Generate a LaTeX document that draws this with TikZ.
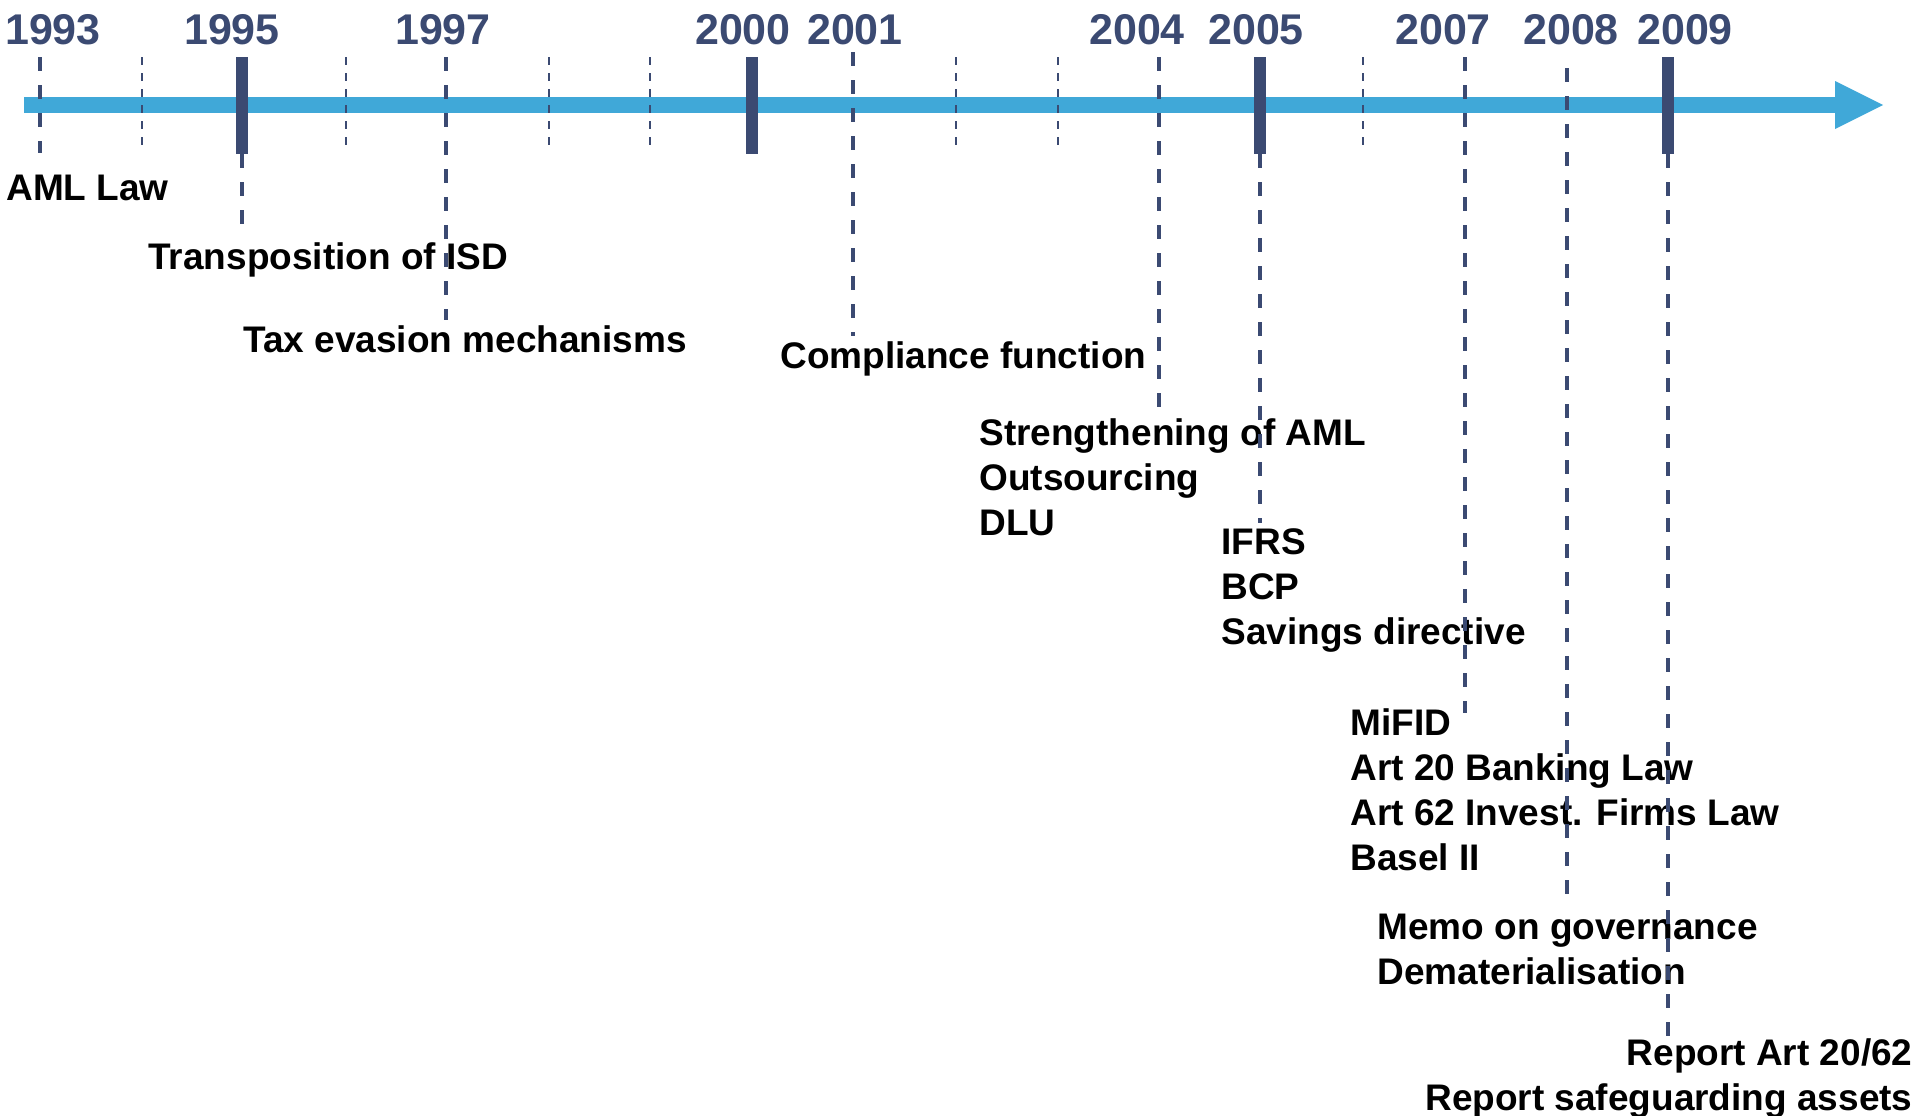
\documentclass[tikz,border=0pt]{standalone}
\usepackage{fontspec}
\setmainfont{Liberation Sans}
\definecolor{navy}{RGB}{59,74,114}
\definecolor{barblue}{RGB}{64,168,216}

\begin{document}
\begin{tikzpicture}[x=0.5pt, y=-0.5pt,
    year/.style={font=\fontsize{21.5}{24}\selectfont\bfseries, text=navy, inner sep=0},
    event/.style={font=\fontsize{18.5}{22.5}\selectfont\bfseries, align=left, inner sep=0, anchor=north west},
    stem/.style={navy, line width=1.75pt, dash pattern=on 7pt off 7pt},
    minortick/.style={navy, line width=1pt, dash pattern=on 4pt off 4pt},
    yearbar/.style={navy, line width=6pt}]
    \useasboundingbox (0,0) rectangle (1917,1115);

    % Flecha
    \fill[barblue] (24,97) rectangle (1836,113);
    \fill[barblue] (1835,81) -- (1883,105) -- (1835,129) -- cycle;

    % Marcas
    \foreach \x in {142,346,549,650,956,1058,1363}
        \draw[minortick] (\x,57) -- (\x,148);

    % Años
    \node[year] (n1993) at (53,30) {1993};
    \node[year] (n1995) at (232,30) {1995};
    \node[year] (n1997) at (443,30) {1997};
    \node[year] (n2000) at (743,30) {2000};
    \node[year] (n2001) at (855,30) {2001};
    \node[year] (n2004) at (1137,30) {2004};
    \node[year] (n2005) at (1256,30) {2005};
    \node[year] (n2007) at (1443,30) {2007};
    \node[year] (n2008) at (1571,30) {2008};
    \node[year] (n2009) at (1685,30) {2009};

    % Eventos
    \node[event] (aml) at (6,175) {AML Law};
    \node[event] (isd) at (148,242) {Transposition of ISD};
    \node[event] (tax) at (243,325) {Tax evasion mechanisms};
    \node[event] (comp) at (780,341) {Compliance function};
    \node[event] (stren) at (979,418) {Strengthening of AML\\Outsourcing\\DLU};
    \node[event] (ifrs) at (1221,528) {IFRS\\BCP\\Savings directive};
    \node[event] (mifid) at (1350,708) {MiFID\\Art 20 Banking Law\\Art 62 Invest. Firms Law\\Basel II};
    \node[event] (memo) at (1377,914) {Memo on governance\\Dematerialisation};
    \node[event, anchor=north east, align=right] (report) at (1913,1038) {Report Art 20/62\\Report safeguarding assets};

    % Tallos
    \coordinate (t1993) at (40,57);   \coordinate (e1993) at (40,153);
    \coordinate (t1995) at (242,57);  \coordinate (b1995) at (242,154); \coordinate (e1995) at (242,238);
    \coordinate (t1997) at (446,57);  \coordinate (e1997) at (446,320);
    \coordinate (t2000) at (752,57);  \coordinate (b2000) at (752,154);
    \coordinate (t2001) at (853,52);  \coordinate (e2001) at (853,336);
    \coordinate (t2004) at (1159,57); \coordinate (e2004) at (1159,410);
    \coordinate (t2005) at (1260,57); \coordinate (b2005) at (1260,154); \coordinate (e2005) at (1260,523);
    \coordinate (t2007) at (1465,57); \coordinate (e2007) at (1465,713);
    \coordinate (t2008) at (1567,68); \coordinate (e2008) at (1567,897);
    \coordinate (t2009) at (1668,57); \coordinate (b2009) at (1668,154); \coordinate (e2009) at (1668,1038);

    \draw[stem] (t1993) -- (e1993);
    \draw[stem] (b1995) -- (e1995);
    \draw[stem] (t1997) -- (e1997);
    \draw[stem] (t2001) -- (e2001);
    \draw[stem] (t2004) -- (e2004);
    \draw[stem] (b2005) -- (e2005);
    \draw[stem] (t2007) -- (e2007);
    \draw[stem] (t2008) -- (e2008);
    \draw[stem] (b2009) -- (e2009);
    \draw[yearbar] (t1995) -- (b1995);
    \draw[yearbar] (t2000) -- (b2000);
    \draw[yearbar] (t2005) -- (b2005);
    \draw[yearbar] (t2009) -- (b2009);
\end{tikzpicture}
\end{document}
